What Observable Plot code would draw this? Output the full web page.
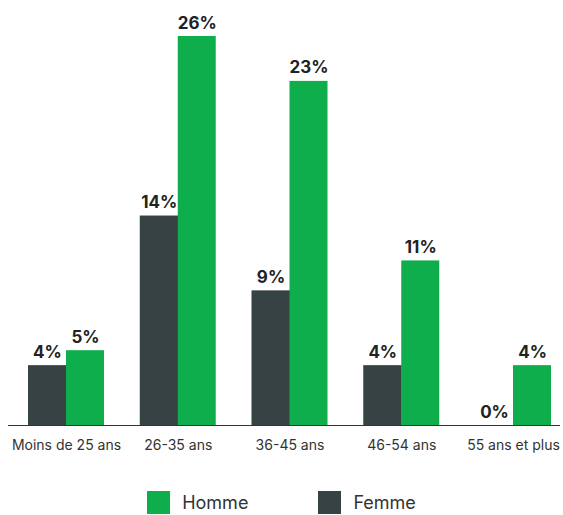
<!DOCTYPE html>
<html>
<head>
<meta charset="utf-8">
<script src="https://cdn.jsdelivr.net/npm/d3@7"></script>
<script src="https://cdn.jsdelivr.net/npm/@observablehq/plot@0.6"></script>
<style>
  body { margin: 0; background: #fff; font-family: Inter, "Noto Sans", sans-serif; }
  #chart { width: 563px; }
  .legend { display: flex; justify-content: center; align-items: center; margin-top: 21px; gap: 70px; font-size: 18px; color: #333; }
  .item { display: flex; align-items: center; gap: 12px; }
  .sw { width: 23px; height: 23px; display: inline-block; }
</style>
</head>
<body>
<div id="chart"></div>
<script>
const categories = ["Moins de 25 ans", "26-35 ans", "36-45 ans", "46-54 ans", "55 ans et plus"];
const femme = [4, 14, 9, 4, 0];
const homme = [5, 26, 23, 11, 4];
const seriesNames = ["Homme", "Femme"];
const colors = {Homme: "#0dae4b", Femme: "#364244"};

const data = [];
categories.forEach((c, i) => {
  data.push({cat: c, sexe: "Femme", value: femme[i]});
  data.push({cat: c, sexe: "Homme", value: homme[i]});
});
const F = data.filter(d => d.sexe === "Femme");
const H = data.filter(d => d.sexe === "Homme");

const plot = Plot.plot({
  width: 563,
  height: 470,
  marginTop: 36,
  marginBottom: 45,
  marginLeft: 8,
  marginRight: 3,
  style: {fontFamily: "Inter, 'Noto Sans', sans-serif", background: "#fff"},
  x: {domain: categories, range: [28, 551], paddingInner: 0.32, paddingOuter: 0, round: false, label: null},
  y: {domain: [0, 26], axis: null},
  marks: [
    Plot.barY(F, {x: "cat", y: "value", fill: colors.Femme, insetRight: 37.5}),
    Plot.barY(H, {x: "cat", y: "value", fill: colors.Homme, insetLeft: 38}),
    Plot.text(F, {x: "cat", y: "value", text: d => d.value + "%", dx: -19, dy: -8, lineAnchor: "bottom", fontWeight: 700, fontSize: 17, fill: "#222"}),
    Plot.text(H, {x: "cat", y: "value", text: d => d.value + "%", dx: 19, dy: -8, lineAnchor: "bottom", fontWeight: 700, fontSize: 17, fill: "#222"}),
    Plot.ruleY([0], {stroke: "#333", strokeWidth: 1.2}),
    Plot.axisX({tickSize: 0, tickPadding: 15, fontSize: 14, color: "#333", label: null})
  ]
});
document.getElementById("chart").appendChild(plot);

const legend = document.createElement("div");
legend.className = "legend";
seriesNames.forEach(n => {
  const it = document.createElement("div");
  it.className = "item";
  const sw = document.createElement("span");
  sw.className = "sw";
  sw.style.background = colors[n];
  const t = document.createElement("span");
  t.textContent = n;
  it.appendChild(sw);
  it.appendChild(t);
  legend.appendChild(it);
});
document.getElementById("chart").appendChild(legend);
</script>
</body>
</html>
